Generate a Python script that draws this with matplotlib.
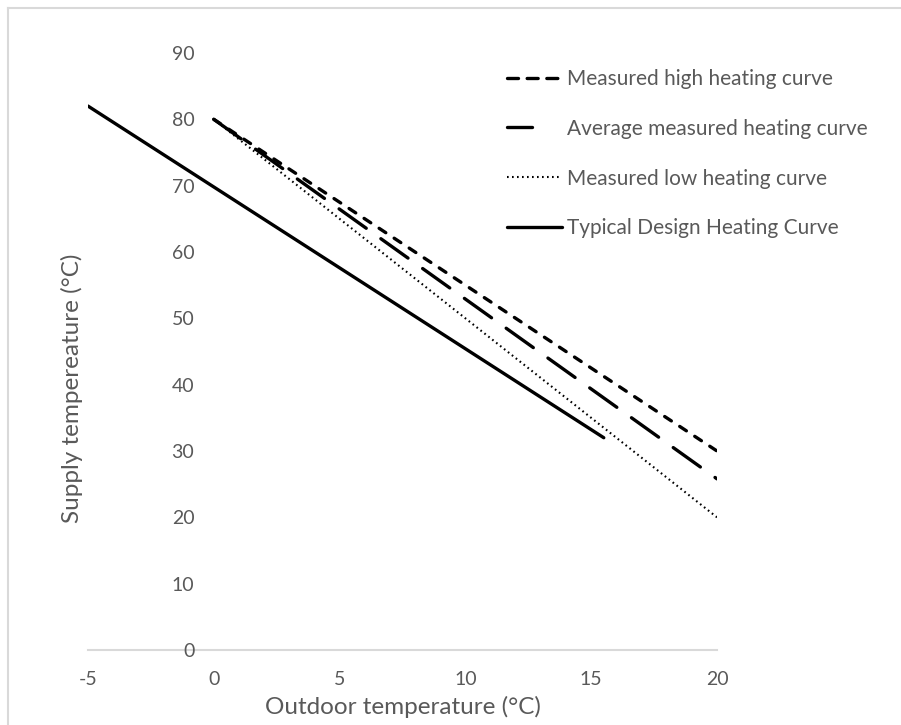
import numpy as np
import matplotlib
matplotlib.use('Agg')
import matplotlib.pyplot as plt
from matplotlib.lines import Line2D

plt.rcParams['font.family'] = ['Lato', 'DejaVu Sans']
plt.rcParams['axes.unicode_minus'] = False

# data
t_meas   = [0, 20]
high     = [80, 30]
average  = [80, 25.8]
low      = [80, 20]
t_design = [-5, 15.5]
design   = [82, 32]

labels = ['Measured high heating curve', 'Average measured heating curve',
          'Measured low heating curve', 'Typical Design Heating Curve']
xticks = [-5, 0, 5, 10, 15, 20]
yticks = [0, 10, 20, 30, 40, 50, 60, 70, 80, 90]

grey = '#595959'

fig = plt.figure(figsize=(9.01, 7.25), dpi=100)
ax = fig.add_axes([88/901., 75/725., (717-88)/901., (650-53)/725.])

l1, = ax.plot(t_meas, high, color='k', lw=2.4, dashes=(2.4, 3.0),
              dash_capstyle='round', solid_capstyle='round')
l2, = ax.plot(t_meas, average, color='k', lw=2.4, dashes=(10.0, 5.4),
              dash_capstyle='round', solid_capstyle='round')
l3, = ax.plot(t_meas, low, color='k', lw=1.5, dashes=(0.8, 1.6))
l4, = ax.plot(t_design, design, color='k', lw=2.4, solid_capstyle='round')

ax.set_xlim(-5, 20)
ax.set_ylim(0, 90)
ax.set_xticks(xticks)
ax.set_yticks(yticks)

ax.spines['left'].set_position(('data', 0))
ax.spines['left'].set_visible(False)
ax.spines['right'].set_visible(False)
ax.spines['top'].set_visible(False)
ax.spines['bottom'].set_color('#d9d9d9')
ax.spines['bottom'].set_linewidth(1.5)
ax.spines['bottom'].set_zorder(0)
ax.tick_params(axis='both', length=0, labelsize=14, labelcolor=grey)
ax.tick_params(axis='y', pad=14)
ax.tick_params(axis='x', pad=15)

fig.text(403/901., 1 - 707/725., 'Outdoor temperature (°C)', fontsize=17.5,
         color=grey, ha='center', va='center')
fig.text(72/901., 1 - 388/725., 'Supply tempereature (°C)', fontsize=17.5,
         color=grey, ha='center', va='center', rotation=90)

# legend handles: three short dashes, one long dash
h1 = Line2D([], [], color='k', lw=2.4, dashes=(3.3, 2.6),
            dash_capstyle='round')
h2 = Line2D([], [], color='k', lw=2.4, dashes=(7.5, 20),
            dash_capstyle='round')
lgd = ax.legend((h1, h2, l3, l4), labels, loc='upper left',
                bbox_to_anchor=(507/901., 1 - 69/725.),
                bbox_transform=fig.transFigure, frameon=False, fontsize=15,
                handlelength=2.65, handletextpad=0.22, labelspacing=1.43,
                borderpad=0, borderaxespad=0)
for txt in lgd.get_texts():
    txt.set_color(grey)

# light frame at top and left, as in the cropped source
fig.add_artist(Line2D([8/901., 1], [1 - 8/725., 1 - 8/725.],
                      color='#d9d9d9', lw=1.5, transform=fig.transFigure))
fig.add_artist(Line2D([8/901., 8/901.], [0, 1 - 8/725.],
                      color='#d9d9d9', lw=1.5, transform=fig.transFigure))

plt.savefig('out.png', dpi=100)
